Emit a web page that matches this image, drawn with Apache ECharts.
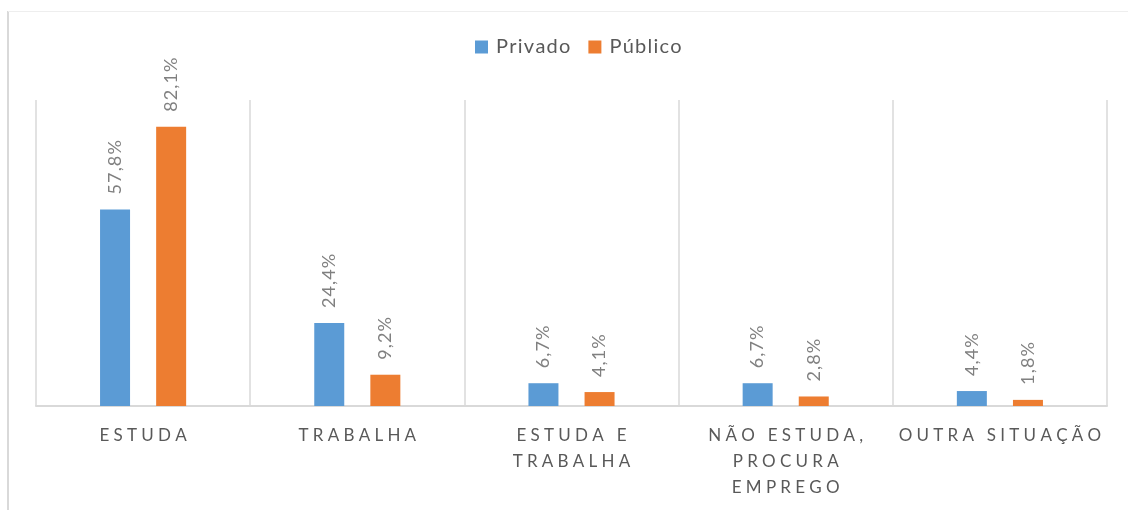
<!DOCTYPE html>
<html>
<head>
<meta charset="utf-8">
<script src="https://cdn.jsdelivr.net/npm/echarts@6/dist/echarts.min.js"></script>
<style>
  html, body { margin: 0; padding: 0; background: #fff; }
  #chart { width: 1128px; height: 510px; }
</style>
</head>
<body>
<div id="chart"></div>
<script>
var categories = ["ESTUDA", "TRABALHA", "ESTUDA E\nTRABALHA", "NÃO ESTUDA,\nPROCURA\nEMPREGO", "OUTRA SITUAÇÃO"];
var privado = [57.8, 24.4, 6.7, 6.7, 4.4];
var publico = [82.1, 9.2, 4.1, 2.8, 1.8];

// spread letters a bit, like the original
function spaced(s, sp) {
  return s.split("\n").map(function (line) {
    return line.split("").join(sp);
  }).join("\n");
}

var chart = echarts.init(document.getElementById("chart"));
var fontFamily = "Lato, 'Open Sans', sans-serif";

var labelOpt = {
  show: true,
  position: "top",
  rotate: 90,
  align: "left",
  verticalAlign: "middle",
  distance: 15,
  color: "#808080",
  fontSize: 18,
  fontFamily: fontFamily,
  formatter: function (p) {
    return spaced(p.value.toFixed(1).replace(".", ",") + "%", "\u200A");
  },
};

var option = {
  backgroundColor: "#fff",
  animation: false,
  textStyle: { fontFamily: fontFamily },
  legend: {
    top: 37,
    left: 475,
    padding: 0,
    itemWidth: 13,
    itemHeight: 13,
    itemGap: 18,
    icon: "rect",
    formatter: function (n) { return spaced(n, "\u200A"); },
    textStyle: { color: "#595959", fontSize: 20, fontFamily: fontFamily, padding: [0, 0, 0, 3] },
    data: ["Privado", "Público"],
  },
  grid: {
    left: 36,
    right: 21,
    top: 100,
    bottom: 104,
  },
  xAxis: {
    type: "category",
    data: categories,
    axisTick: { show: false },
    axisLine: { lineStyle: { color: "#d9d9d9", width: 2 } },
    splitLine: { show: true, lineStyle: { color: "#d9d9d9", width: 1.5 } },
    axisLabel: {
      interval: 0,
      color: "#595959",
      fontSize: 17,
      lineHeight: 26,
      margin: 17,
      fontFamily: fontFamily,
      formatter: function (v) { return spaced(v, "\u2005"); },
    },
  },
  yAxis: {
    type: "value",
    min: 0,
    max: 90,
    show: false,
    splitLine: { show: false },
  },
  series: [
    {
      name: "Privado",
      type: "bar",
      data: privado,
      barWidth: 30,
      barGap: "87%",
      itemStyle: { color: "#5B9BD5" },
      label: labelOpt,
    },
    {
      name: "Público",
      type: "bar",
      data: publico,
      barWidth: 30,
      barGap: "87%",
      itemStyle: { color: "#ED7D31" },
      label: labelOpt,
    },
  ],
  graphic: [
    {
      type: "line",
      shape: { x1: 8, y1: 11, x2: 8, y2: 510 },
      style: { stroke: "#d9d9d9", lineWidth: 2 },
    },
    {
      type: "line",
      shape: { x1: 8, y1: 11.5, x2: 1128, y2: 11.5 },
      style: { stroke: "#eeeeee", lineWidth: 1 },
    },
  ],
};
option && chart.setOption(option);
</script>
</body>
</html>
